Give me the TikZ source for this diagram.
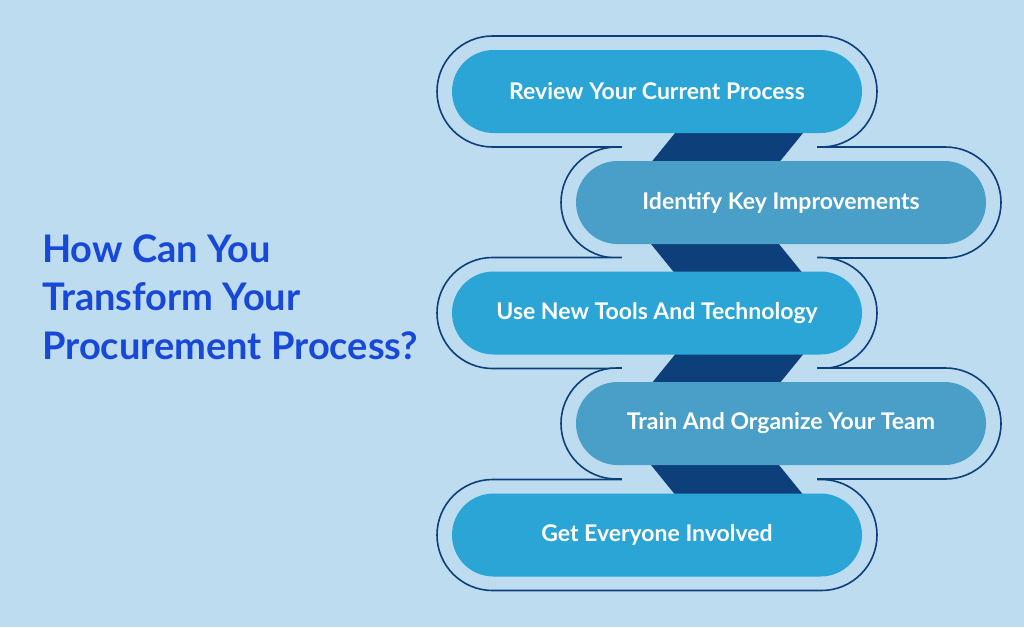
\documentclass[tikz,border=0pt]{standalone}
\usepackage{fontspec}
\setmainfont{Lato}
\usetikzlibrary{positioning, calc}
\definecolor{bgblue}{HTML}{BDDCF0}
\definecolor{pillA}{HTML}{2BA5D6}
\definecolor{pillB}{HTML}{4A9FC8}
\definecolor{navy}{HTML}{0D3F7A}
\definecolor{titleblue}{HTML}{1848D8}
\tikzset{
  outer/.style={draw=navy, line width=1.6pt, fill=bgblue, rectangle, rounded corners=55.5pt, minimum width=440pt, minimum height=111pt},
  pill/.style={rectangle, rounded corners=41.5pt, minimum width=410pt, minimum height=83pt, text=white, font=\bfseries\fontsize{23}{27}\selectfont},
  link/.style={fill=navy}
}
\begin{document}
\begin{tikzpicture}[x=1pt, y=-1pt]
  \fill[bgblue] (0,0) rectangle (1024,627);
  \useasboundingbox (0,0) rectangle (1024,627);
  % Outlines
  \foreach \n/\x/\y in {o1/657/91.5, o2/781/202.5, o3/657/313, o4/781/423.5, o5/657/535}
    \node (\n) [outer] at (\x,\y) {};
  % merge the outlines where they meet
  \foreach \a in {o1,o3} \fill[bgblue] ($(\a.south)+(-35,-5)$) rectangle ($(\a.south)+(160,5)$);
  \foreach \a in {o2,o4} \fill[bgblue] ($(\a.south)+(-159,-5)$) rectangle ($(\a.south)+(36,5)$);
  % Links
  \foreach \a in {o1,o3}
    \fill[link] ($(\a.south)+(19,-16)$) -- ($(\a.south)+(147,-16)$) -- ($(\a.south)+(121,16)$) -- ($(\a.south)+(-7,16)$) -- cycle;
  \foreach \a in {o2,o4}
    \fill[link] ($(\a.south)+(-131,-16)$) -- ($(\a.south)+(-3,-16)$) -- ($(\a.south)+(23,16)$) -- ($(\a.south)+(-105,16)$) -- cycle;
  % Steps
  \node (review) [pill, fill=pillA] at (o1) {Review Your Current Process};
  \node (identify) [pill, fill=pillB] at (o2) {Identify Key Improvements};
  \node (tools) [pill, fill=pillA] at (o3) {Use New Tools And Technology};
  \node (train) [pill, fill=pillB] at (o4) {Train And Organize Your Team};
  \node (involve) [pill, fill=pillA] at (o5) {Get Everyone Involved};
  % Title
  \node (title) [anchor=west, align=left, inner sep=0pt, text=titleblue, font=\bfseries\fontsize{38}{48.5}\selectfont] at (42,297) {How Can You\\Transform Your\\Procurement Process?};
\end{tikzpicture}
\end{document}
